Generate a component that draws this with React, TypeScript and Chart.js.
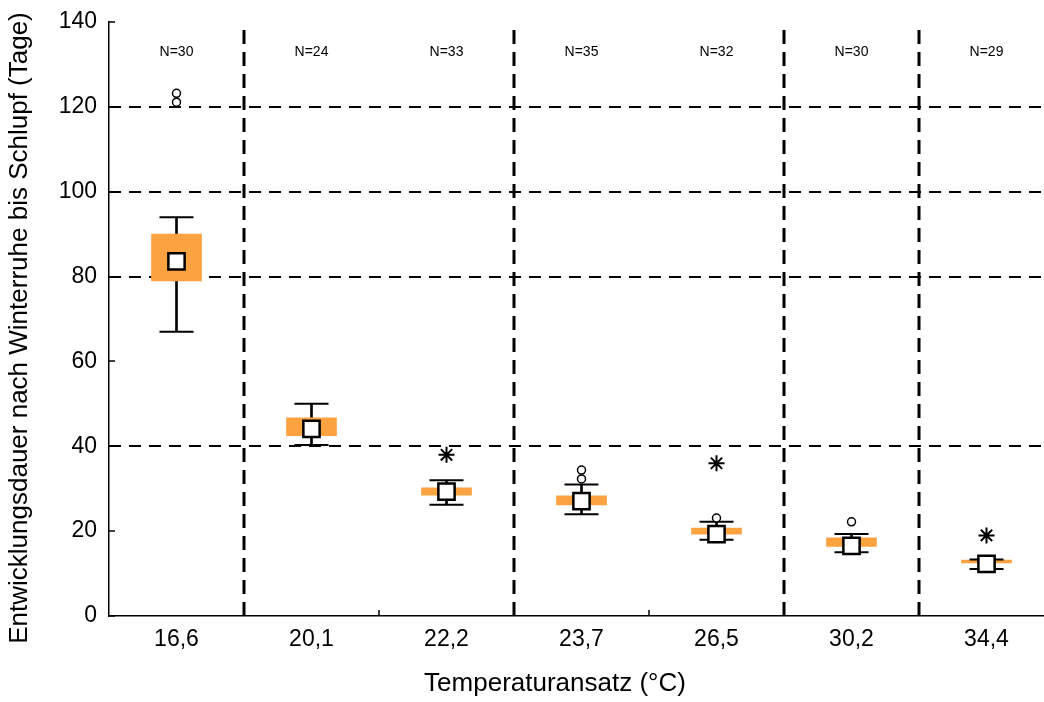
import React, { useEffect, useRef } from 'react';
import { Chart, registerables } from 'chart.js';

Chart.register(...registerables);

// ---- data ----
const categories = ['16,6', '20,1', '22,2', '23,7', '26,5', '30,2', '34,4'];
const sampleSizes = ['N=30', 'N=24', 'N=33', 'N=35', 'N=32', 'N=30', 'N=29'];
const whiskerLow = [67, 40.3, 26.2, 24, 18, 15, 11.1];
const boxLow = [79, 42.5, 28.5, 26.2, 19.3, 16.4, 12.5];
const medians = [83.6, 44.1, 29.3, 27.1, 19.3, 16.5, 12.3];
const boxHigh = [90, 46.7, 30.2, 28.3, 20.7, 18.4, 13.2];
const whiskerHigh = [94, 50, 32, 31, 22.2, 19.3, 13.3];
const circleOutlierCat = [0, 0, 3, 3, 4, 5];
const circleOutlierVal = [121.1, 123.2, 32.3, 34.4, 23.1, 22.2];
const starOutlierCat = [2, 4, 6];
const starOutlierVal = [38, 36, 19];
const dashedYValues = [40, 80, 100, 120];
const dashedXBoundaries = [1, 3, 5, 6];
const yMin = 0;
const yMax = 140;
const yStep = 20;
const xTitle = 'Temperaturansatz (°C)';
const yTitle = 'Entwicklungsdauer nach Winterruhe bis Schlupf (Tage)';

const FONT = "'Liberation Sans', Arial, sans-serif";
const ORANGE = 'rgb(252,162,64)';

const decorPlugin = {
  id: 'decor',
  beforeDatasetsDraw(chart: any) {
    const { ctx, chartArea: a, scales } = chart;
    const x = scales.x;
    const y = scales.y;
    ctx.save();
    ctx.strokeStyle = '#000';
    // horizontal dashed grid lines
    ctx.lineWidth = 2;
    ctx.setLineDash([12, 8]);
    dashedYValues.forEach((v) => {
      const py = Math.round(y.getPixelForValue(v));
      ctx.beginPath();
      ctx.moveTo(a.left, py);
      ctx.lineTo(a.right, py);
      ctx.stroke();
    });
    // vertical dashed lines between groups
    ctx.lineWidth = 3;
    ctx.setLineDash([14, 8]);
    dashedXBoundaries.forEach((i) => {
      const px = Math.round((x.getPixelForValue(i - 1) + x.getPixelForValue(i)) / 2);
      ctx.beginPath();
      ctx.moveTo(px, a.bottom);
      ctx.lineTo(px, a.top);
      ctx.stroke();
    });
    ctx.setLineDash([]);
    // inner tick marks
    ctx.lineWidth = 1.5;
    y.ticks.forEach((t: any) => {
      const py = Math.round(y.getPixelForValue(t.value));
      ctx.beginPath();
      ctx.moveTo(a.left, py);
      ctx.lineTo(a.left + 6, py);
      ctx.stroke();
    });
    for (let i = 1; i < categories.length; i++) {
      const px = Math.round((x.getPixelForValue(i - 1) + x.getPixelForValue(i)) / 2);
      ctx.beginPath();
      ctx.moveTo(px, a.bottom);
      ctx.lineTo(px, a.bottom - 6);
      ctx.stroke();
    }
    ctx.restore();
  },
  afterDraw(chart: any) {
    const { ctx, scales } = chart;
    const x = scales.x;
    const y = scales.y;
    ctx.save();
    ctx.fillStyle = '#000';
    ctx.textAlign = 'center';
    ctx.textBaseline = 'middle';
    ctx.font = `14px ${FONT}`;
    sampleSizes.forEach((s, i) => {
      ctx.fillText(s, x.getPixelForValue(i), y.getPixelForValue(133));
    });
    ctx.font = `26px ${FONT}`;
    ctx.fillText(xTitle, 555, 684);
    ctx.translate(20, 328);
    ctx.rotate(-Math.PI / 2);
    ctx.fillText(yTitle, 0, 0);
    ctx.restore();
  },
};

export default function App() {
  const ref = useRef<HTMLCanvasElement>(null);
  useEffect(() => {
    if (!ref.current) return;
    const circlePts = circleOutlierCat.map((c, i) => ({ x: categories[c], y: circleOutlierVal[i] }));
    const starPts = starOutlierCat.map((c, i) => ({ x: categories[c], y: starOutlierVal[i] }));
    const chart = new Chart(ref.current, {
      type: 'bar',
      data: {
        labels: categories,
        datasets: [
          {
            type: 'bar',
            label: 'whisker',
            data: whiskerLow.map((v, i) => [v, whiskerHigh[i]]),
            backgroundColor: '#000',
            barThickness: 2,
            grouped: false,
            order: 5,
          } as any,
          {
            type: 'bar',
            label: 'box',
            data: boxLow.map((v, i) => [v, boxHigh[i]]),
            backgroundColor: ORANGE,
            barThickness: 50,
            grouped: false,
            order: 4,
          } as any,
          {
            type: 'line',
            label: 'capLow',
            data: whiskerLow,
            showLine: false,
            pointStyle: 'line',
            pointRadius: 17,
            pointBorderWidth: 2,
            borderColor: '#000',
            order: 3,
          } as any,
          {
            type: 'line',
            label: 'capHigh',
            data: whiskerHigh,
            showLine: false,
            pointStyle: 'line',
            pointRadius: 17,
            pointBorderWidth: 2,
            borderColor: '#000',
            order: 3,
          } as any,
          {
            type: 'line',
            label: 'median',
            data: medians,
            showLine: false,
            pointStyle: 'rect',
            pointRadius: 11.5,
            pointBorderWidth: 2.5,
            pointBackgroundColor: '#fff',
            pointBorderColor: '#000',
            order: 1,
          } as any,
          {
            type: 'line',
            label: 'outliers',
            data: circlePts,
            showLine: false,
            pointStyle: 'circle',
            pointRadius: 4,
            pointBorderWidth: 1.5,
            pointBackgroundColor: '#fff',
            pointBorderColor: '#000',
            order: 2,
          } as any,
          {
            type: 'line',
            label: 'extremes',
            data: starPts,
            showLine: false,
            pointStyle: 'star',
            pointRadius: 8,
            pointBorderWidth: 2,
            pointBorderColor: '#000',
            order: 2,
          } as any,
        ],
      },
      options: {
        responsive: false,
        animation: false,
        layout: { padding: { top: 22, right: 7, left: 0, bottom: 0 } },
        plugins: { legend: { display: false }, tooltip: { enabled: false } },
        scales: {
          x: {
            type: 'category',
            offset: true,
            grid: { display: false, drawTicks: false },
            border: { display: true, color: '#000', width: 1.5 },
            ticks: { color: '#000', font: { family: FONT, size: 23 }, padding: 10 },
            afterFit: (s: any) => { s.height = 86; },
          },
          y: {
            min: yMin,
            max: yMax,
            grid: { display: false, drawTicks: false },
            border: { display: true, color: '#000', width: 1.5 },
            ticks: { stepSize: yStep, color: '#000', font: { family: FONT, size: 23 }, padding: 12 },
            afterFit: (s: any) => { s.width = 109; s.paddingTop = 0; s.paddingBottom = 0; },
          },
        },
      } as any,
      plugins: [decorPlugin],
    });
    return () => chart.destroy();
  }, []);
  return (
    <div style={{ position: 'fixed', left: 0, top: 0, width: 1044, height: 702, overflow: 'hidden', background: '#fff' }}>
      <canvas ref={ref} width={1073} height={702} style={{ display: 'block' }} />
    </div>
  );
}
